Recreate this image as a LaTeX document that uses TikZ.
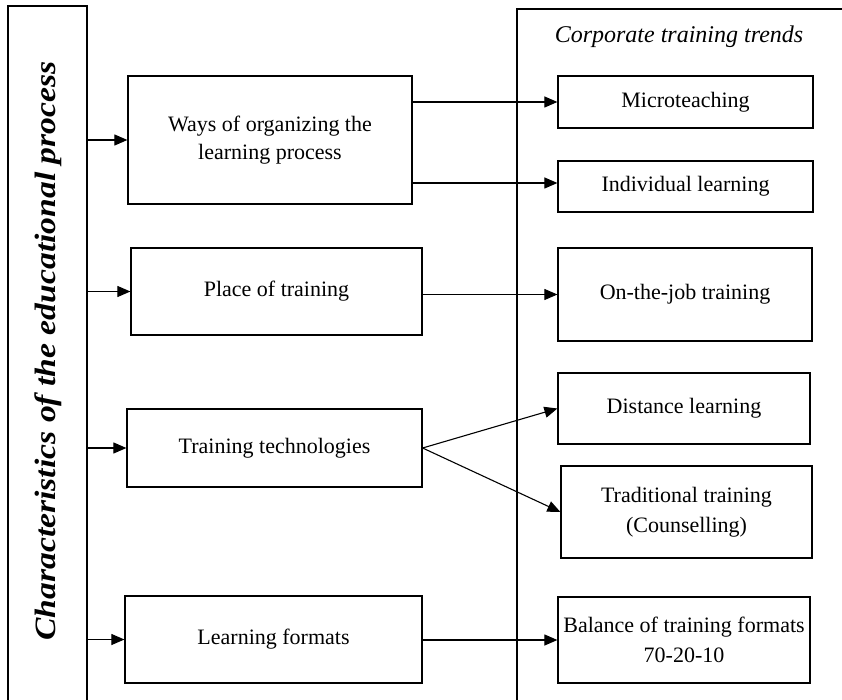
\documentclass[tikz,border=0pt]{standalone}
\usepackage{fontspec}
\setmainfont{Liberation Serif}
\usetikzlibrary{arrows.meta}
\begin{document}
\begin{tikzpicture}[x=1pt,y=-1pt,
  box/.style={draw, line width=1.2pt, align=center, inner sep=0pt,
    font=\fontsize{22}{28}\selectfont},
  arr/.style={-{Triangle[length=13pt,width=11pt]}, line width=1.1pt},
  frame/.style={line width=1.2pt},
  bigframe/.style={line width=2.6pt}]
\useasboundingbox (0,0) rectangle (842,700);
% left frame
\draw[frame] (8,702) -- (8,6) -- (87,6) -- (87,702);
\coordinate (L) at (87,0);
\node[rotate=90, inner sep=0pt, font=\fontsize{29.5}{29.5}\bfseries\itshape\selectfont] (title) at (48,351)
  {\scalebox{1.14}[1]{Characteristics of the educational process}};
% right frame
\draw[bigframe] (843,9) -- (517,9) -- (517,702);
\node[inner sep=0pt, font=\fontsize{24}{24}\itshape\selectfont] (trends) at (679,37) {Corporate training trends};
% left boxes
\node[box, minimum width=284pt, minimum height=128pt] (b1) at (270,140) {Ways of organizing the\\learning process};
\node[box, minimum width=291pt, minimum height=87pt] (b2) at (276.5,291.5) {Place of training};
\node[box, minimum width=295pt, minimum height=78pt] (b3) at (274.5,448) {Training technologies};
\node[box, minimum width=297pt, minimum height=87pt] (b4) at (273.5,639.5) {Learning formats};
% right boxes
\node[box, minimum width=255pt, minimum height=52pt] (m) at (685.5,102) {Microteaching};
\node[box, minimum width=255pt, minimum height=51pt] (i) at (685.5,186.5) {Individual learning};
\node[box, minimum width=254pt, minimum height=93pt] (o) at (685,294.5) {On-the-job training};
\node[box, minimum width=252pt, minimum height=71pt] (d) at (684,408.5) {Distance learning};
\node[box, minimum width=251pt, minimum height=92pt, font=\fontsize{22}{30}\selectfont] (t) at (686.5,512) {Traditional training\\(Counselling)};
\node[box, minimum width=252pt, minimum height=86pt, font=\fontsize{22}{30}\selectfont] (bal) at (684,640) {Balance of training formats\\70-20-10};
% arrows from left frame
\draw[arr] (L |- b1.west) -- (b1.west);
\draw[arr] (L |- b2.west) -- (b2.west);
\draw[arr] (L |- b3.west) -- (b3.west);
\draw[arr] (L |- b4.west) -- (b4.west);
% arrows to trends
\draw[arr] (b1.east |- m.west) -- (m.west);
\draw[arr] ([yshift=3.5pt]b1.east |- i.west) -- ([yshift=3.5pt]i.west);
\draw[arr] (b2.east |- o.west) -- (o.west);
\draw[arr] (b3.east) -- (d.west);
\draw[arr] (b3.east) -- (t.west);
\draw[arr] (b4.east |- bal.west) -- (bal.west);
\end{tikzpicture}
\end{document}
